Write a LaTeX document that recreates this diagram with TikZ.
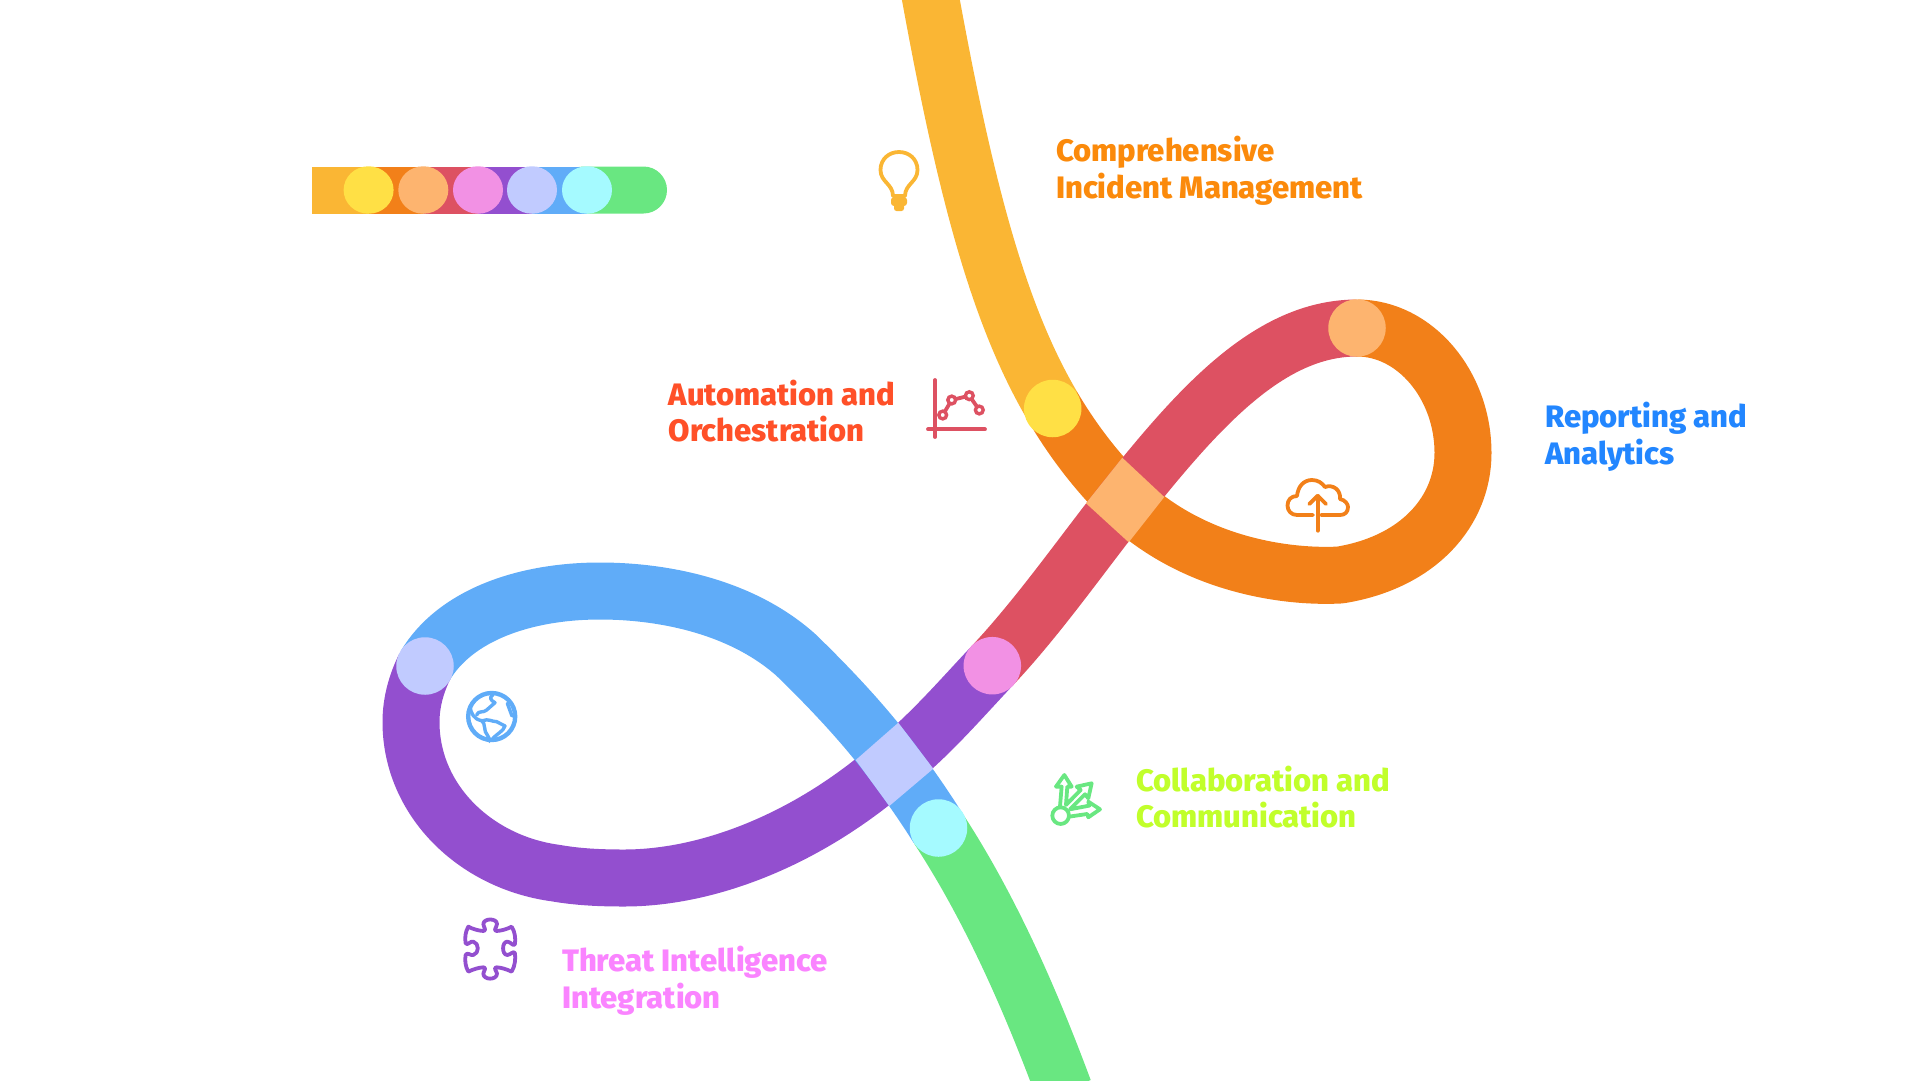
\documentclass[tikz,border=0pt]{standalone}
\usepackage{fontspec}
\setmainfont{Fira Sans}[BoldFont={Fira Sans ExtraBold}]
\definecolor{cyellow}{HTML}{FAB634}
\definecolor{corange}{HTML}{F28019}
\definecolor{cred}{HTML}{DD5162}
\definecolor{cpurple}{HTML}{934FCF}
\definecolor{cblue}{HTML}{60ACF8}
\definecolor{cgreen}{HTML}{69E781}
\definecolor{dyellow}{HTML}{FFE045}
\definecolor{dorange}{HTML}{FDB46F}
\definecolor{dpink}{HTML}{F291E4}
\definecolor{dlav}{HTML}{C1CBFF}
\definecolor{dcyan}{HTML}{A5FAFF}
\definecolor{torange}{HTML}{FB8A0B}
\definecolor{tred}{HTML}{FF5028}
\definecolor{tblue}{HTML}{2286FF}
\definecolor{tlime}{HTML}{C1FF2B}
\definecolor{tpink}{HTML}{FA84FF}
\tikzset{
  band/.style={line width=57pt,line cap=butt,line join=round},
  dot/.style={circle,inner sep=0pt,minimum size=57.5pt},
  bardot/.style={ellipse,inner sep=0pt,minimum width=50pt,minimum height=47.5pt},
  icon/.style={line width=3.8pt,line cap=round,line join=round},
  label/.style={anchor=west,align=left,inner sep=0pt,font=\fontsize{31}{36.7}\selectfont\bfseries},
}
\usetikzlibrary{shapes.geometric}
\begin{document}
\begin{tikzpicture}[x=1pt,y=-1pt]
\useasboundingbox (0,0) rectangle (1920,1080);
\clip (0,0) rectangle (1920,1080);
% legend bar
\fill[cgreen,rounded corners=23.5pt] (560,166.5) rectangle (667,213.5);
\fill[cyellow] (312,166.5) rectangle (369,213.5);
\fill[corange] (369,166.5) rectangle (423,213.5);
\fill[cred] (423,166.5) rectangle (478,213.5);
\fill[cpurple] (478,166.5) rectangle (532,213.5);
\fill[cblue] (532,166.5) rectangle (587,213.5);
\node[bardot,fill=dyellow] (b1) at (368.6,190) {};
\node[bardot,fill=dorange] (b2) at (423.3,190) {};
\node[bardot,fill=dpink] (b3) at (478,190) {};
\node[bardot,fill=dlav] (b4) at (532,190) {};
\node[bardot,fill=dcyan] (b5) at (587,190) {};
% ribbon
\draw[band,cyellow] (930,-5) .. controls (966.3,194.4) and (999.5,316.2) .. (1052.6,406.4);
\draw[band,corange] (1052.6,406.4) .. controls (1073.3,441.6) and (1097,472) .. (1125,500)
  .. controls (1190,562) and (1280,578) .. (1340,575)
  .. controls (1420,562) and (1463,510) .. (1463,453)
  .. controls (1463,385) and (1415,328) .. (1357,328);
\draw[band,cred] (1357,328) .. controls (1270,328) and (1200,406) .. (1125,500)
  .. controls (1085,550) and (1040,615) .. (992,666);
\draw[band,cpurple] (992,666) .. controls (960,700) and (930,735) .. (894,764)
  .. controls (810,838) and (710,878) .. (624,878)
  .. controls (600,878) and (578,877) .. (555,873)
  .. controls (475,862) and (411,800) .. (411,722)
  .. controls (411,703) and (416,684) .. (425,666);
\draw[band,cblue] (425,666) .. controls (455,615) and (525,591) .. (600,591)
  .. controls (660,591) and (740,605) .. (796,655)
  .. controls (830,688) and (865,725) .. (894,764)
  .. controls (908,783) and (923,804) .. (938,828);
\draw[band,cgreen] (938,828) .. controls (985,900) and (1025,985) .. (1064,1090);
% crossings
\fill[dorange] (1122.3,457.7) -- (1086,503.3) -- (1128.7,542.3) -- (1164.3,497) -- cycle;
\fill[dlav] (898.3,722.7) -- (855.7,760) -- (889.3,806) -- (933.3,768.7) -- cycle;
% milestones
\node[dot,fill=dyellow] (m1) at (1052.7,408.5) {};
\node[dot,fill=dorange] (m2) at (1357,328) {};
\node[dot,fill=dpink] (m3) at (992.3,665.7) {};
\node[dot,fill=dlav] (m4) at (425,666) {};
\node[dot,fill=dcyan] (m5) at (938.5,828) {};
% bulb
\draw[icon,cyellow] (893,196) .. controls (893,184) and (880.5,182) .. (880.5,170)
  .. controls (880.5,159) and (889,152) .. (899,152)
  .. controls (909,152) and (917.5,159) .. (917.5,170)
  .. controls (917.5,182) and (905,184) .. (905,196) -- cycle;
\fill[cyellow,rounded corners=3pt] (891,197) rectangle (907,206);
\fill[cyellow,rounded corners=2.5pt] (894,204) rectangle (904,211);
% chart
\draw[icon,cred] (935,380) -- (935,437);
\draw[icon,cred] (928,429.3) -- (985,429.3);
\draw[icon,cred] (942.7,415) -- (951.7,400) -- (969.3,395.7) -- (979.3,410);
\foreach \p in {(942.7,415),(951.7,400),(969.3,395.7),(979.3,410)}
  \draw[cred,line width=3.4pt,fill=white] \p circle (3.9pt);
% cloud
\draw[icon,corange] (1313,515) -- (1297,515) .. controls (1291,515) and (1287.5,510.5) .. (1287.5,505.5)
  .. controls (1287.5,500) and (1291,496) .. (1297,496)
  .. controls (1298,486) and (1304,480) .. (1312,480)
  .. controls (1318,480) and (1322,483) .. (1325,487)
  .. controls (1333,484) and (1341,490) .. (1340,499)
  .. controls (1345,500) and (1348,504) .. (1348,507)
  .. controls (1348,512) and (1345,515) .. (1340,515) -- (1321,515);
\draw[icon,corange] (1317.7,496) -- (1317.7,530.7);
\draw[icon,corange] (1309.3,504) -- (1317.7,495.7) -- (1326,504);
% globe
\draw[cblue,line width=4.4pt] (491.7,716.5) circle (23.5pt);
\begin{scope}[shift={(450,680)},x=0.3333pt,y=-0.3333pt]
  \draw[icon,cblue,line width=3.4pt] (60,78) .. controls (62,100) and (72,118) .. (95,122)
    .. controls (108,130) and (100,155) .. (112,165) .. controls (118,172) and (118,178) .. (118,184);
  \draw[icon,cblue,line width=3.4pt] (80,105) .. controls (85,90) and (100,100) .. (110,90)
    -- (135,68) .. controls (120,60) and (118,52) .. (128,45);
  \draw[icon,cblue,line width=3.4pt] (98,122) .. controls (115,115) and (125,125) .. (140,125)
    -- (165,138) .. controls (160,155) and (140,160) .. (125,180);
  \draw[icon,cblue,line width=3.4pt] (172,70) -- (186,108);
\end{scope}
% puzzle
\begin{scope}[shift={(360,620)},x=0.3333pt,y=-0.3333pt]
  \draw[icon,cpurple] (325,920) .. controls (340,928) and (355,932) .. (370,933)
    .. controls (382,933) and (370,920) .. (370,912)
    .. controls (371,894) and (411,894) .. (411,912)
    .. controls (411,920) and (398,933) .. (410,933)
    .. controls (425,932) and (440,928) .. (455,920)
    .. controls (465,935) and (467,955) .. (465,972)
    .. controls (461,982) and (452,965) .. (442,965)
    .. controls (425,965) and (425,1005) .. (442,1005)
    .. controls (452,1005) and (461,990) .. (465,1000)
    .. controls (467,1018) and (465,1038) .. (455,1055)
    .. controls (440,1048) and (425,1043) .. (410,1042)
    .. controls (398,1042) and (411,1055) .. (411,1061)
    .. controls (411,1081) and (370,1081) .. (370,1061)
    .. controls (370,1055) and (382,1042) .. (370,1042)
    .. controls (355,1043) and (340,1048) .. (325,1055)
    .. controls (316,1040) and (314,1020) .. (317,1005)
    .. controls (322,995) and (332,1008) .. (340,1005)
    .. controls (358,1000) and (358,970) .. (340,965)
    .. controls (332,962) and (322,978) .. (317,970)
    .. controls (314,955) and (316,935) .. (325,920) -- cycle;
\end{scope}
% arrows
\begin{scope}[shift={(840,440)},x=0.3333pt,y=-0.3333pt]
  \draw[icon,cgreen] (648,1040) -- (673,1005) -- (695,1040) -- (682,1040) -- (678,1095)
    -- (722,1050) -- (710,1040) -- (755,1030) -- (745,1075) -- (735,1063) -- (690,1108)
    -- (748,1097) -- (745,1085) -- (780,1108) -- (745,1132) -- (742,1122) -- (688,1130);
  \draw[icon,cgreen] (648,1040) -- (665,1040) -- (660,1100);
  \draw[icon,cgreen] (662,1127) circle (25);
\end{scope}
% labels
\node[label,text=torange] (t1) at (1056,170.5) {Comprehensive\\Incident Management};
\node[label,text=tblue] (t2) at (1545,437) {Reporting and\\Analytics};
\node[label,text=tred] (t3) at (668.6,411) {Automation and\\Orchestration};
\node[label,text=tlime] (t4) at (1136,797) {Collaboration and\\Communication};
\node[label,text=tpink] (t5) at (562,981) {Threat Intelligence\\Integration};
\end{tikzpicture}
\end{document}
